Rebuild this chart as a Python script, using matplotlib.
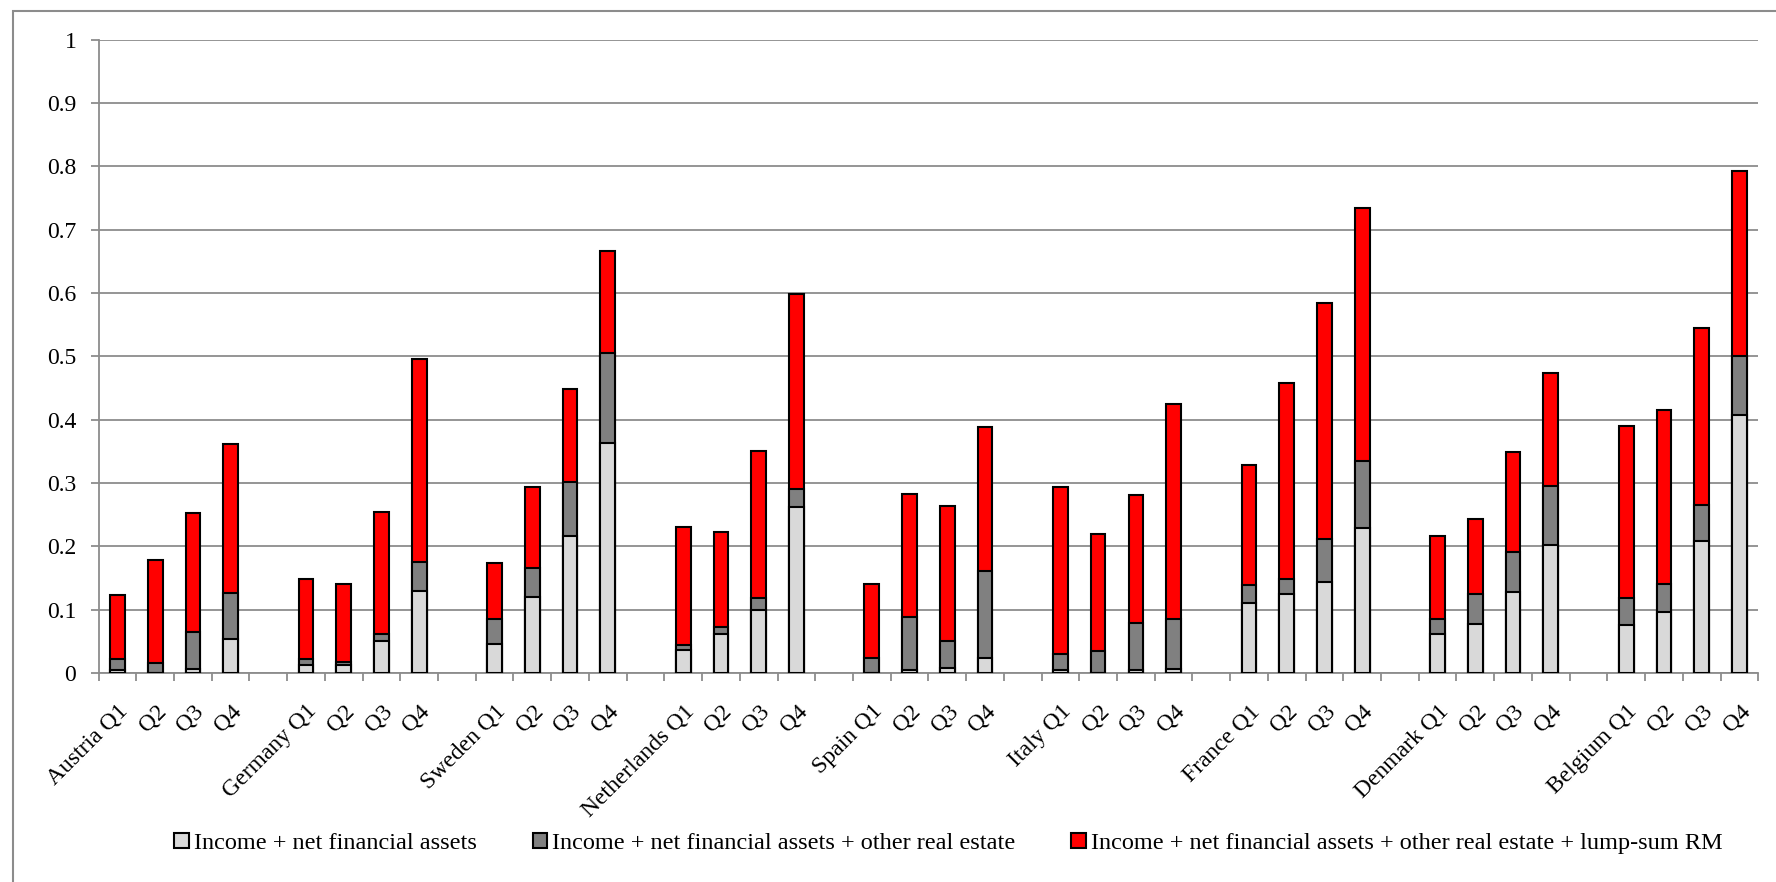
import numpy as np
import matplotlib.pyplot as plt
from matplotlib.patches import Rectangle

plt.rcParams['font.family'] = ['Liberation Serif', 'DejaVu Serif']

# Daten (kumulative Werte)
countries = ['Austria', 'Germany', 'Sweden', 'Netherlands', 'Spain',
             'Italy', 'France', 'Denmark', 'Belgium']
quarters = ['Q1', 'Q2', 'Q3', 'Q4']

income_fin = [0.004, 0.0, 0.007, 0.053,
              0.013, 0.013, 0.050, 0.130,
              0.045, 0.120, 0.216, 0.363,
              0.036, 0.062, 0.099, 0.262,
              0.0, 0.004, 0.008, 0.024,
              0.005, 0.0, 0.005, 0.006,
              0.110, 0.125, 0.143, 0.229,
              0.061, 0.078, 0.128, 0.202,
              0.076, 0.097, 0.208, 0.408]
plus_real_estate = [0.022, 0.016, 0.064, 0.127,
                    0.022, 0.018, 0.062, 0.176,
                    0.085, 0.166, 0.301, 0.506,
                    0.044, 0.072, 0.118, 0.291,
                    0.023, 0.089, 0.051, 0.161,
                    0.030, 0.034, 0.079, 0.086,
                    0.139, 0.149, 0.212, 0.335,
                    0.086, 0.124, 0.191, 0.295,
                    0.118, 0.140, 0.266, 0.500]
plus_lump_rm = [0.123, 0.179, 0.252, 0.362,
                0.149, 0.140, 0.254, 0.496,
                0.174, 0.294, 0.448, 0.667,
                0.230, 0.222, 0.350, 0.598,
                0.140, 0.282, 0.263, 0.389,
                0.293, 0.220, 0.281, 0.424,
                0.329, 0.458, 0.584, 0.734,
                0.217, 0.243, 0.349, 0.474,
                0.390, 0.416, 0.545, 0.793]

labels_legend = ['Income + net financial assets',
                 'Income + net financial assets + other real estate',
                 'Income + net financial assets + other real estate + lump-sum RM']

# Positionen: 4 Quartale pro Land, danach eine Lücke
pos = []
tick_labels = []
for g, c in enumerate(countries):
    for q, qq in enumerate(quarters):
        pos.append(g * 5 + q)
        tick_labels.append(f'{c} {qq}' if q == 0 else qq)
pos = np.array(pos)
n_cat = len(countries) * 5 - 1

fig = plt.figure(figsize=(17.76, 8.82), dpi=100)
ax = fig.add_axes([0.0555, 0.237, 0.9345, 0.718])

w = 0.39
ax.bar(pos, plus_lump_rm, width=w, color='#ff0000', edgecolor='black', linewidth=1.5, zorder=3,
       label=labels_legend[2])
ax.bar(pos, plus_real_estate, width=w, color='#808080', edgecolor='black', linewidth=1.5, zorder=4,
       label=labels_legend[1])
ax.bar(pos, income_fin, width=w, color='#d9d9d9', edgecolor='black', linewidth=1.5, zorder=5,
       label=labels_legend[0])

ax.set_xlim(-0.5, n_cat - 0.5)
ax.set_ylim(0, 1)
ax.set_yticks(np.arange(0, 1.01, 0.1))
ax.set_yticklabels(['0', '0.1', '0.2', '0.3', '0.4', '0.5', '0.6', '0.7', '0.8', '0.9', '1'])
ax.grid(axis='y', color='#8c8c8c', linewidth=1.3, zorder=0)

ax.set_xticks(pos)
ax.set_xticklabels(tick_labels, rotation=45, ha='right', va='top', rotation_mode='anchor')
ax.set_xticks(np.arange(-0.5, n_cat, 1.0), minor=True)
ax.tick_params(axis='x', which='major', length=0, pad=20, labelsize=17)
ax.tick_params(axis='x', which='minor', length=6, color='#8c8c8c', width=1.3)
ax.tick_params(axis='y', length=6, color='#8c8c8c', width=1.3, labelsize=17, pad=10)

for s in ['top', 'right']:
    ax.spines[s].set_visible(False)
for s in ['left', 'bottom']:
    ax.spines[s].set_color('#8c8c8c')
    ax.spines[s].set_linewidth(1.3)

handles, labs = ax.get_legend_handles_labels()
fig.legend(handles[::-1], labs[::-1], loc='center', bbox_to_anchor=(0.534, 0.044), ncol=3,
           frameon=False, fontsize=17.5, handlelength=0.6, handleheight=0.6,
           handletextpad=0.2, columnspacing=2.3)

# Rahmen um das Diagramm
fig.patches.append(Rectangle((13 / 1776, -0.05), 1.2, 1.05 - 11 / 882, transform=fig.transFigure,
                             fill=False, edgecolor='#8c8c8c', linewidth=1.5))

fig.savefig('out.png', dpi=100)
